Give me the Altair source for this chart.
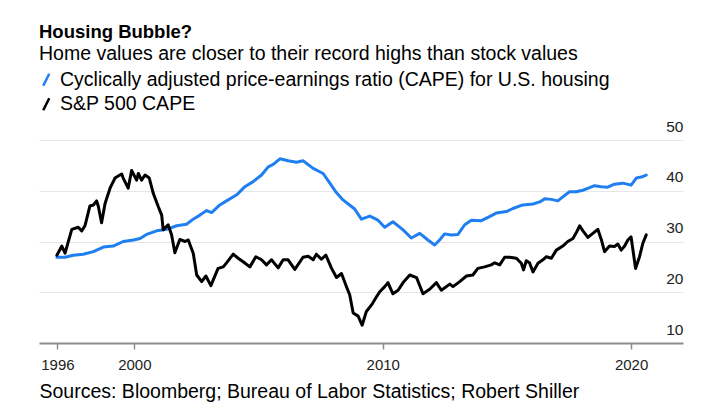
import altair as alt
import pandas as pd

TITLE = "Housing Bubble?"
SUBTITLE = "Home values are closer to their record highs than stock values"
SOURCE = "Sources: Bloomberg; Bureau of Labor Statistics; Robert Shiller"
SERIES = ["Cyclically adjusted price-earnings ratio (CAPE) for U.S. housing", "S&P 500 CAPE"]
COLORS = ["#1f7ff0", "#000000"]

housing_years = [1996.88, 1997.21, 1997.54, 1997.94, 1998.35, 1998.75, 1999.15, 1999.55, 1999.96,
                 2000.23, 2000.49, 2000.90, 2001.30, 2001.70, 2002.10, 2002.37, 2002.64, 2002.91,
                 2003.11, 2003.44, 2003.71, 2004.12, 2004.45, 2004.78, 2005.12, 2005.39, 2005.59,
                 2005.86, 2006.19, 2006.53, 2006.79, 2007.20, 2007.60, 2007.87, 2008.14, 2008.40,
                 2008.87, 2009.14, 2009.48, 2009.81, 2010.08, 2010.41, 2010.82, 2011.15, 2011.49,
                 2011.82, 2012.09, 2012.29, 2012.49, 2012.76, 2013.03, 2013.30, 2013.57, 2013.97,
                 2014.30, 2014.57, 2014.98, 2015.24, 2015.64, 2016.05, 2016.32, 2016.52, 2016.79,
                 2017.05, 2017.25, 2017.52, 2017.79, 2018.06, 2018.33, 2018.53, 2018.80, 2019.06,
                 2019.33, 2019.67, 2020.00, 2020.21, 2020.41, 2020.61]
housing_values = [26.9, 26.9, 27.3, 27.5, 28.0, 28.9, 29.1, 30.0, 30.3,
                  30.6, 31.4, 32.1, 32.4, 33.1, 33.4, 34.4, 35.2, 36.1,
                  35.7, 37.2, 38.0, 39.2, 40.8, 41.8, 43.1, 44.7, 45.2,
                  46.3, 45.9, 45.6, 45.9, 44.4, 43.4, 41.5, 39.6, 38.2,
                  36.4, 34.4, 35.0, 34.2, 32.8, 33.9, 32.3, 30.7, 31.6,
                  30.3, 29.3, 30.3, 31.5, 31.3, 31.4, 33.3, 34.2, 34.1,
                  34.9, 35.6, 35.9, 36.5, 37.2, 37.4, 37.8, 38.4, 38.3,
                  38.0, 38.8, 39.8, 39.8, 40.1, 40.6, 41.0, 40.8, 40.7,
                  41.3, 41.5, 41.1, 42.5, 42.7, 43.1]

sp_years = [1996.88, 1997.08, 1997.21, 1997.48, 1997.74, 1997.88, 1998.01, 1998.21, 1998.35,
            1998.48, 1998.55, 1998.68, 1998.82, 1999.02, 1999.22, 1999.35, 1999.49, 1999.55,
            1999.75, 1999.89, 2000.09, 2000.16, 2000.29, 2000.43, 2000.60, 2000.76, 2000.96,
            2001.10, 2001.16, 2001.36, 2001.50, 2001.63, 2001.83, 2002.04, 2002.17, 2002.37,
            2002.51, 2002.71, 2002.88, 2003.08, 2003.37, 2003.58, 2003.71, 2003.98, 2004.18,
            2004.38, 2004.65, 2004.89, 2005.12, 2005.32, 2005.52, 2005.79, 2005.99, 2006.19,
            2006.46, 2006.79, 2007.00, 2007.20, 2007.33, 2007.53, 2007.71, 2007.94, 2008.14,
            2008.34, 2008.54, 2008.67, 2008.81, 2009.01, 2009.17, 2009.34, 2009.55, 2009.75,
            2009.88, 2010.08, 2010.21, 2010.41, 2010.62, 2010.82, 2011.09, 2011.36, 2011.62,
            2011.89, 2012.16, 2012.36, 2012.70, 2012.83, 2013.10, 2013.37, 2013.63, 2013.83,
            2014.10, 2014.37, 2014.51, 2014.71, 2014.91, 2015.11, 2015.38, 2015.58, 2015.67,
            2015.78, 2015.91, 2016.05, 2016.25, 2016.45, 2016.59, 2016.79, 2016.99, 2017.25,
            2017.45, 2017.66, 2017.79, 2017.93, 2018.06, 2018.26, 2018.46, 2018.66, 2018.80,
            2018.93, 2019.13, 2019.33, 2019.47, 2019.60, 2019.74, 2019.87, 2020.00, 2020.18,
            2020.34, 2020.47, 2020.61]
sp_values = [27.3, 29.1, 27.7, 32.4, 32.8, 32.1, 33.1, 37.0, 37.2,
             38.0, 36.9, 33.7, 37.5, 40.5, 42.5, 42.9, 43.3, 42.5,
             40.5, 44.0, 42.1, 43.4, 42.1, 43.1, 42.5, 39.5, 36.9,
             35.2, 32.3, 33.3, 31.3, 27.8, 30.4, 30.0, 30.3, 27.7,
             23.4, 22.1, 23.2, 21.3, 24.7, 25.0, 25.8, 27.5, 26.7,
             26.0, 25.0, 27.0, 26.4, 25.4, 26.4, 24.8, 26.4, 26.4,
             24.5, 26.9, 27.1, 26.4, 27.5, 26.5, 27.3, 24.7, 22.9,
             23.7, 21.1, 19.5, 15.9, 15.3, 13.5, 16.2, 17.5, 19.1,
             20.1, 21.1, 21.9, 19.7, 20.4, 21.9, 23.4, 22.9, 19.7,
             20.6, 21.9, 20.4, 21.6, 21.1, 22.1, 23.2, 23.4, 24.7,
             25.0, 25.4, 25.8, 25.4, 26.9, 26.9, 26.7, 25.7, 24.4,
             26.2, 25.8, 24.0, 25.7, 26.4, 27.0, 26.7, 28.3, 29.1,
             30.0, 30.6, 31.7, 33.1, 32.1, 30.8, 31.6, 32.4, 30.4,
             28.0, 29.1, 29.0, 29.5, 28.3, 29.1, 30.3, 30.9, 24.7,
             27.0, 29.6, 31.3]

X_TICKS = [1996.9, 2000, 2010, 2020]
Y_TICKS = [10, 20, 30, 40, 50]
X_DOMAIN = [1996.16, 2022.09]
Y_DOMAIN = [10, 50]

FONT = "Liberation Sans"

df = pd.concat([
    pd.DataFrame({"year": housing_years, "value": housing_values, "series": SERIES[0]}),
    pd.DataFrame({"year": sp_years, "value": sp_values, "series": SERIES[1]}),
], ignore_index=True)

chart = alt.Chart(df).mark_line(strokeWidth=3, strokeJoin="round", strokeCap="round").encode(
    x=alt.X(
        "year:Q",
        scale=alt.Scale(domain=X_DOMAIN, nice=False, zero=False),
        axis=alt.Axis(
            values=X_TICKS, labelExpr="toString(floor(datum.value))", title=SOURCE,
            grid=False, domainColor="#8c8c8c", domainWidth=2, tickColor="#8c8c8c",
            tickWidth=1.5, tickSize=6, labelFontSize=15, labelColor="#222222", labelFont=FONT,
            labelPadding=8, labelFlush=False, labelOverlap=False,
            titleFontSize=19.5, titleFontWeight="normal", titleColor="#000000", titleFont=FONT,
            titleAlign="left", titleAnchor="start", titleX=0, titleY=54,
            titleBaseline="alphabetic", zindex=1,
        ),
    ),
    y=alt.Y(
        "value:Q",
        scale=alt.Scale(domain=Y_DOMAIN, nice=False, zero=False),
        axis=alt.Axis(
            orient="right", values=Y_TICKS, title=None, domain=False, ticks=False, tickSize=0,
            labelAlign="right", labelPadding=0, labelBaseline="alphabetic", labelOffset=-9,
            labelFontSize=15.5, labelColor="#222222", labelFont=FONT,
            gridColor="#e6e6e6", gridWidth=1,
        ),
    ),
    color=alt.Color(
        "series:N",
        scale=alt.Scale(domain=SERIES, range=COLORS),
        legend=alt.Legend(
            orient="none", legendX=-2.5, legendY=-70, title=None, direction="vertical",
            symbolType="M-0.5,1L0.5,-1", symbolSize=144, symbolStrokeWidth=2.5,
            labelFontSize=19.5, labelFont=FONT, labelColor="#000000", labelOffset=4,
            rowPadding=1.5, labelLimit=700,
        ),
    ),
).properties(
    width=644,
    height=203,
    autosize=alt.AutoSizeParams(type="none"),
    padding={"left": 39, "top": 140, "right": 37, "bottom": 62},
    title=alt.TitleParams(
        text=TITLE, subtitle=SUBTITLE, anchor="start", frame="group",
        font=FONT, fontSize=18.5, fontWeight="bold", color="#000000",
        subtitleFont=FONT, subtitleFontSize=19.5, subtitleColor="#000000",
        subtitlePadding=3.5, offset=6.5,
    ),
).configure(background="white", font=FONT).configure_view(stroke=None)

chart.save("out.html", embed_options={"renderer": "svg", "actions": False})
